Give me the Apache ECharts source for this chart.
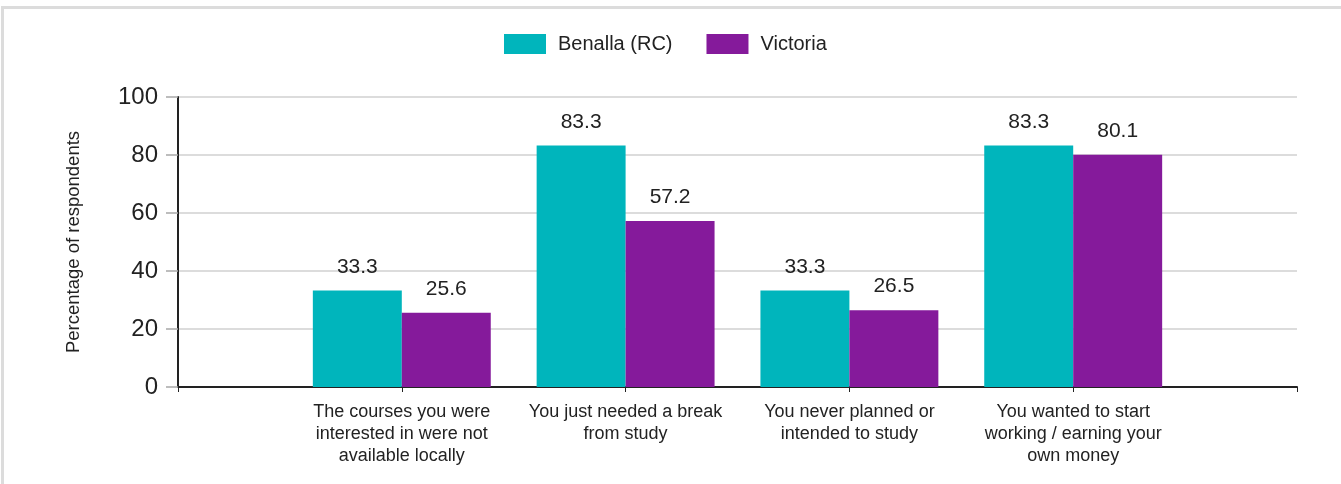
<!DOCTYPE html>
<html>
<head>
<meta charset="utf-8">
<script src="https://cdn.jsdelivr.net/npm/echarts@6/dist/echarts.min.js"></script>
<style>
  html, body { margin: 0; padding: 0; background: #fff; }
  #wrap { position: relative; width: 1341px; height: 484px; overflow: hidden; }
  #chart { position: absolute; left: 0; top: 0; width: 1341px; height: 484px; }
  #frame { position: absolute; left: 1px; top: 6px; width: 1400px; height: 600px;
           border-left: 3px solid #dcdcdc; border-top: 3px solid #dcdcdc; pointer-events: none; }
</style>
</head>
<body>
<div id="wrap">
  <div id="chart"></div>
  <div id="frame"></div>
</div>
<script>
// Categories (empty end slots give the half-band margins of the original axis)
const categories = [
  '',
  'The courses you were\ninterested in were not\navailable locally',
  'You just needed a break\nfrom study',
  'You never planned or\nintended to study',
  'You wanted to start\nworking / earning your\nown money',
  ''
];
const seriesNames = ['Benalla (RC)', 'Victoria'];
const benallaValues = [null, 33.3, 83.3, 33.3, 83.3, null];
const victoriaValues = [null, 25.6, 57.2, 26.5, 80.1, null];
const yAxisTitle = 'Percentage of respondents';
const yMin = 0, yMax = 100, yInterval = 20;

const FONT = "'Liberation Sans', Arial, sans-serif";
const colors = ['#00B5BC', '#851A9B'];

const chart = echarts.init(document.getElementById('chart'), null, { renderer: 'canvas' });

const labelCfg = {
  show: true,
  position: 'top',
  distance: 13,
  color: '#222',
  fontSize: 21,
  fontFamily: FONT,
  formatter: p => p.value == null ? '' : p.value.toFixed(1)
};

chart.setOption({
  animation: false,
  textStyle: { fontFamily: FONT },
  color: colors,
  legend: {
    data: seriesNames,
    left: 499,
    top: 29,
    icon: 'rect',
    itemWidth: 42,
    itemHeight: 20,
    itemGap: 34,
    textStyle: { fontSize: 20, color: '#222', fontFamily: FONT, padding: [0, 0, 0, 7] }
  },
  grid: { left: 178, right: 44, top: 97, bottom: 97, containLabel: false },
  xAxis: {
    type: 'category',
    data: categories,
    boundaryGap: false,
    axisLine: { show: true, lineStyle: { color: '#222', width: 2 } },
    axisTick: { show: true, length: 5, interval: 0, lineStyle: { color: '#222', width: 1 } },
    axisLabel: {
      interval: 0,
      color: '#222',
      fontSize: 18,
      lineHeight: 22,
      margin: 14,
      fontFamily: FONT,
      align: 'center'
    },
    splitLine: { show: false }
  },
  yAxis: {
    type: 'value',
    min: yMin,
    max: yMax,
    interval: yInterval,
    name: yAxisTitle,
    nameLocation: 'middle',
    nameRotate: 90,
    nameGap: 95,
    nameTextStyle: { fontSize: 18.5, color: '#222', fontFamily: FONT },
    axisLine: { show: true, lineStyle: { color: '#222', width: 2 } },
    axisTick: { show: true, length: 12, lineStyle: { color: '#a8a8a8', width: 1.5 } },
    axisLabel: { color: '#222', fontSize: 24, margin: 20, fontFamily: FONT },
    splitLine: { show: true, lineStyle: { color: '#dcdcdc', width: 2 } }
  },
  series: [
    {
      name: seriesNames[0],
      type: 'bar',
      data: benallaValues,
      barGap: '0%',
      barCategoryGap: '20.5%',
      label: labelCfg,
      itemStyle: { color: colors[0] }
    },
    {
      name: seriesNames[1],
      type: 'bar',
      data: victoriaValues,
      barGap: '0%',
      barCategoryGap: '20.5%',
      label: labelCfg,
      itemStyle: { color: colors[1] }
    }
  ]
});
</script>
</body>
</html>
